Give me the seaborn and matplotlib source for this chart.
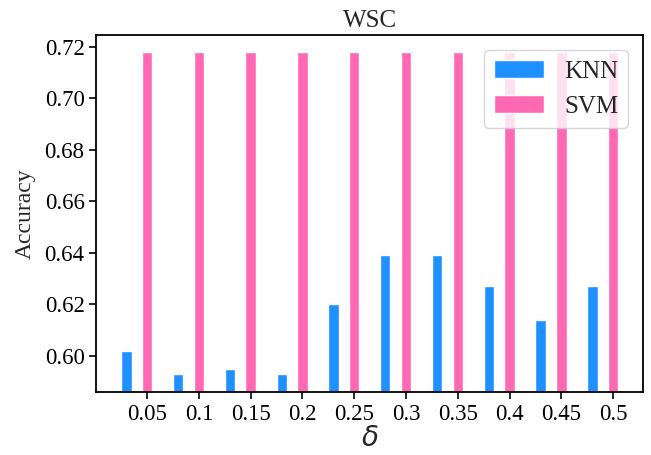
import numpy as np
import pandas as pd
import matplotlib
matplotlib.use("Agg")
import matplotlib.pyplot as plt
import seaborn as sns

deltas = ["0.05", "0.1", "0.15", "0.2", "0.25", "0.3", "0.35", "0.4", "0.45", "0.5"]
knn = [0.602, 0.593, 0.595, 0.593, 0.620, 0.639, 0.639, 0.627, 0.614, 0.627]
svm = [0.718, 0.718, 0.718, 0.718, 0.718, 0.718, 0.718, 0.718, 0.718, 0.718]

sns.set_style("ticks")
plt.rcParams['font.family'] = ['Liberation Serif', 'DejaVu Serif']
plt.rcParams['mathtext.fontset'] = 'dejavusans'

fig, ax = plt.subplots(figsize=(6.51, 4.55), dpi=100)
idx = np.arange(len(deltas))
df_knn = pd.DataFrame({"pos": idx - 0.4, "acc": knn})
df_svm = pd.DataFrame({"pos": idx.astype(float), "acc": svm})

sns.barplot(data=df_knn, x="pos", y="acc", native_scale=True, width=0.2,
            color="#1E90FF", saturation=1, label="KNN", ax=ax)
sns.barplot(data=df_svm, x="pos", y="acc", native_scale=True, width=0.2,
            color="#FF69B4", saturation=1, label="SVM", ax=ax)

ax.set_xticks(idx)
ax.set_xticklabels(deltas)
ax.set_xlim(-0.98, 9.58)
ax.set_ylim(0.586, 0.7246)
yt = [0.60, 0.62, 0.64, 0.66, 0.68, 0.70, 0.72]
ax.set_yticks(yt)
ax.set_yticklabels([f"{v:.2f}" for v in yt])
ax.tick_params(axis='both', labelsize=16.5, length=5, width=1.2, colors='black')
for s in ax.spines.values():
    s.set_visible(True)
    s.set_linewidth(1.3)
    s.set_color('black')

ax.set_xlabel(r"$\delta$", fontsize=20, labelpad=2)
ax.set_ylabel("Accuracy", fontsize=17, labelpad=6)
ax.set_title("WSC", fontsize=18, pad=6)
ax.legend(loc="upper right", fontsize=18, handlelength=2.0, frameon=True,
          borderaxespad=0.6)

fig.subplots_adjust(left=0.148, right=0.988, top=0.923, bottom=0.139)
fig.savefig("out.png", dpi=100)
